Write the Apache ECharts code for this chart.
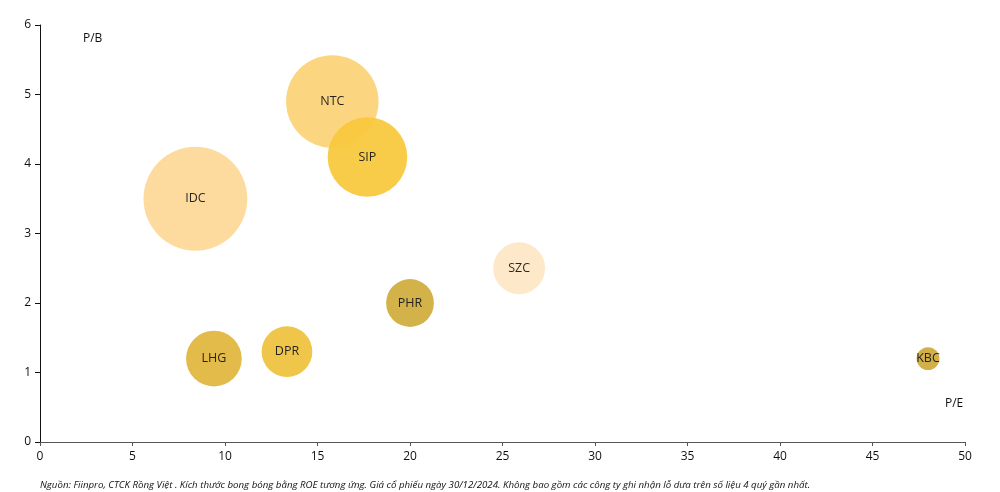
<!DOCTYPE html>
<html><head><meta charset="utf-8">
<script src="https://cdn.jsdelivr.net/npm/echarts@6/dist/echarts.min.js"></script>
<style>html,body{margin:0;padding:0;background:#fff}#c{width:1000px;height:492px}</style>
</head><body><div id="c"></div>
<script>
const tickers = ['IDC','NTC','SIP','SZC','PHR','DPR','LHG','KBC'];
const pe = [8.4, 15.8, 17.7, 25.9, 20.0, 13.35, 9.4, 48.0];
const pb = [3.5, 4.9, 4.1, 2.5, 2.0, 1.3, 1.2, 1.2];
const roe = [34, 27, 20, 8.5, 7.2, 8.1, 9.8, 1.65];
const colors = ['#FDD999','#FCD37A','#F8C93E','#FDE8C6','#D1AE3F','#EEC240','#E0B741','#CFAC3F'];
const xTicks = [0,5,10,15,20,25,30,35,40,45,50];
const yTicks = [0,1,2,3,4,5,6];

const data = tickers.map((t,i)=>({name:t, value:[pe[i], pb[i], roe[i]], itemStyle:{color:colors[i]}}));
const font = "'Open Sans', sans-serif";
const chart = echarts.init(document.getElementById('c'));
chart.setOption({
  animation:false,
  grid:{left:40, right:35, top:25, bottom:50},
  xAxis:{type:'value', min:xTicks[0], max:xTicks[xTicks.length-1], interval:5,
    axisLine:{lineStyle:{color:'#555', width:1}}, axisTick:{show:true, length:4, lineStyle:{color:'#555'}},
    axisLabel:{color:'#111', fontFamily:font, fontSize:12, margin:9}, splitLine:{show:false}},
  yAxis:{type:'value', min:yTicks[0], max:yTicks[yTicks.length-1], interval:1,
    axisLine:{show:true, lineStyle:{color:'#111', width:1}}, axisTick:{show:true, length:5, lineStyle:{color:'#111'}},
    axisLabel:{color:'#111', fontFamily:font, fontSize:12, margin:9}, splitLine:{show:false}},
  series:[{type:'scatter', data:data,
    symbolSize: v => Math.sqrt(v[2])*17.8,
    itemStyle:{opacity:0.95},
    label:{show:true, formatter:p=>p.name, position:'inside', color:'#1a1a1a', fontFamily:font, fontSize:12.5}
  }],
  graphic:[
    {type:'text', left:83, top:33, style:{text:'P/B', font:"12px 'Open Sans', sans-serif", fill:'#111'}},
    {type:'text', left:945, top:398, style:{text:'P/E', font:"12px 'Open Sans', sans-serif", fill:'#111'}},
    {type:'text', left:40, top:480, style:{text:'Nguồn: Fiinpro, CTCK Rồng Việt . Kích thước bong bóng bằng ROE tương ứng. Giá cổ phiếu ngày 30/12/2024. Không bao gồm các công ty ghi nhận lỗ dưa trên số liệu 4 quý gần nhất.', font:"italic 9.7px 'Open Sans', sans-serif", fill:'#111'}}
  ]
});
</script></body></html>
